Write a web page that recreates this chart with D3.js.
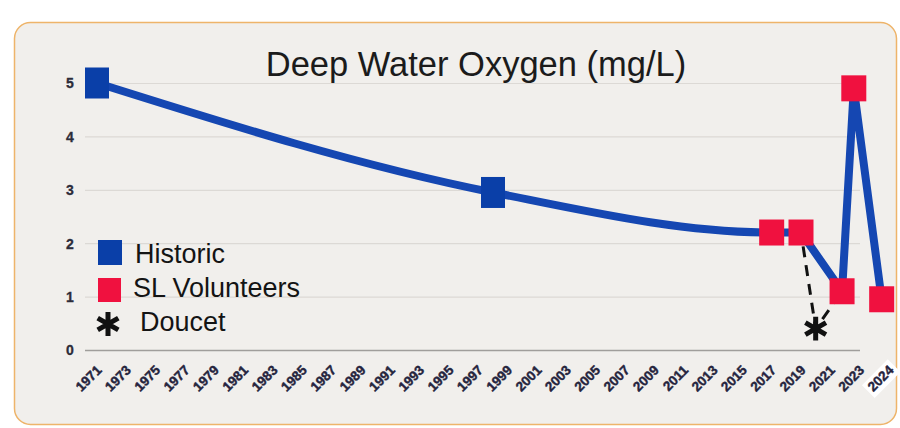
<!DOCTYPE html>
<html>
<head>
<meta charset="utf-8">
<script src="https://cdn.jsdelivr.net/npm/d3@7"></script>
<style>
  html, body { margin: 0; padding: 0; background: #ffffff; }
  svg { display: block; font-family: "Liberation Sans", Arial, sans-serif; }
</style>
</head>
<body>
<svg id="chart" width="900" height="428"></svg>
<script>
// Deep-water dissolved oxygen readings (mg/L)
const historicYears = [1971, 1998];
const historicValues = [5.0, 2.95];
const volunteerYears = [2017, 2019, 2021.8, 2022.6, 2024.5];
const volunteerValues = [2.2, 2.2, 1.1, 4.9, 0.95];
const doucetYears = [2020];
const doucetValues = [0.4];

const yTicks = [0, 1, 2, 3, 4, 5];
const xTickLabels = ["1971","1973","1975","1977","1979","1981","1983","1985","1987","1989",
  "1991","1993","1995","1997","1999","2001","2003","2005","2007","2009","2011","2013",
  "2015","2017","2019","2021","2023","2024"];

const titleText = "Deep Water Oxygen (mg/L)";
const legendItems = ["Historic", "SL Volunteers", "Doucet"];

const BLUE_LINE = "#1547b2";
const BLUE = "#0a3fa8";
const RED = "#f0113f";

const svg = d3.select("#chart");

// card background
svg.append("rect")
  .attr("x", 14.5).attr("y", 22.5).attr("width", 882).attr("height", 402)
  .attr("rx", 16).attr("ry", 16)
  .attr("fill", "#f1efec").attr("stroke", "#eeb46a").attr("stroke-width", 1.5);

const xRange = [97, 889];
const x = d3.scaleLinear().domain([1971, 2025]).range(xRange);
const xLabels = d3.scalePoint().domain(xTickLabels).range(xRange);
const y = d3.scaleLinear().domain([0, 5]).range([350, 83]);

// gridlines
svg.append("g")
  .attr("transform", "translate(85,0)")
  .call(d3.axisLeft(y).tickValues(yTicks).tickSize(-775).tickFormat(""))
  .call(g => g.select(".domain").remove())
  .call(g => g.selectAll(".tick line")
    .attr("stroke", d => d === 0 ? "#a09e9b" : "#dcd9d5")
    .attr("stroke-width", d => d === 0 ? 1.5 : 1.2));

// y tick labels
svg.append("g")
  .attr("transform", "translate(70,0)")
  .call(d3.axisLeft(y).tickValues(yTicks).tickSize(0).tickPadding(0).tickFormat(d3.format("d")))
  .call(g => g.select(".domain").remove())
  .call(g => g.selectAll(".tick text")
    .attr("text-anchor", "middle").attr("x", 0).attr("dy", "0.35em")
    .attr("fill", "#2c2c3a").attr("stroke", "#2c2c3a").attr("stroke-width", 0.3)
    .attr("font-size", 14).attr("font-weight", "bold")
    .attr("font-family", "Liberation Sans, Arial, sans-serif"));

// x tick labels (rotated)
const labelShift = "translate(5,21) rotate(-45)";
const xAxisG = svg.append("g")
  .attr("transform", "translate(0,350)")
  .call(d3.axisBottom(xLabels).tickSize(0).tickPadding(0))
  .call(g => g.select(".domain").remove());
xAxisG.selectAll(".tick text")
  .attr("transform", labelShift)
  .attr("text-anchor", "end").attr("x", 0).attr("y", 0).attr("dy", 0)
  .attr("fill", "#25243d").attr("stroke", "#25243d").attr("stroke-width", 0.4)
  .attr("font-size", 13.5).attr("font-weight", "bold")
  .attr("font-family", "Liberation Sans, Arial, sans-serif");
// white plate behind the final label
xAxisG.selectAll(".tick").filter(d => d === "2024").each(function () {
  const t = d3.select(this).select("text");
  const bb = t.node().getBBox();
  d3.select(this).insert("rect", "text")
    .attr("transform", labelShift)
    .attr("x", bb.x - 3).attr("y", bb.y - 1)
    .attr("width", bb.width + 6).attr("height", bb.height + 3)
    .attr("fill", "#ffffff");
});

// title
svg.append("text")
  .attr("x", 476).attr("y", 76).attr("text-anchor", "middle")
  .attr("font-size", 34.5).attr("fill", "#1b1b1b")
  .text(titleText);

// series line: smooth through the historic record, straight between recent samples
const allYears = historicYears.concat(volunteerYears);
const allValues = historicValues.concat(volunteerValues);
const pts = allYears.map((yr, i) => [x(yr), y(allValues[i])]);
const splitIdx = allYears.indexOf(2019);

svg.append("path")
  .attr("d", d3.line().curve(d3.curveMonotoneX)(pts.slice(0, splitIdx + 1)))
  .attr("fill", "none").attr("stroke", BLUE_LINE).attr("stroke-width", 8)
  .attr("stroke-linejoin", "round");
svg.append("path")
  .attr("d", d3.line()(pts.slice(splitIdx)))
  .attr("fill", "none").attr("stroke", BLUE_LINE).attr("stroke-width", 8)
  .attr("stroke-linejoin", "round");

// dashed link through the Doucet reading
const dashPts = [
  [x(2019), y(2.2)],
  [x(doucetYears[0]), y(doucetValues[0])],
  [x(2021.8), y(1.1)]
];
svg.append("path")
  .attr("d", d3.line()(dashPts))
  .attr("fill", "none").attr("stroke", "#111").attr("stroke-width", 3)
  .attr("stroke-dasharray", "11,8").attr("stroke-dashoffset", -14);

// markers
svg.append("g").selectAll("rect")
  .data(historicYears.map((yr, i) => [yr, historicValues[i]]))
  .join("rect")
  .attr("x", d => x(d[0]) - 12).attr("y", d => y(d[1]) - 15.5)
  .attr("width", 24).attr("height", 31).attr("fill", BLUE);

svg.append("g").selectAll("rect")
  .data(volunteerYears.map((yr, i) => [yr, volunteerValues[i]]))
  .join("rect")
  .attr("x", d => x(d[0]) - 12.5).attr("y", d => y(d[1]) - 13)
  .attr("width", 25).attr("height", 26).attr("fill", RED);

const star = d3.symbol().type(d3.symbolAsterisk).size(400);
svg.append("g").selectAll("path")
  .data(doucetYears.map((yr, i) => [yr, doucetValues[i]]))
  .join("path")
  .attr("transform", d => `translate(${x(d[0])},${y(d[1])})`)
  .attr("d", star).attr("fill", "none").attr("stroke", "#111").attr("stroke-width", 5);

// legend
const legend = svg.append("g");
legend.append("rect").attr("x", 98).attr("y", 240).attr("width", 24).attr("height", 25).attr("fill", BLUE);
legend.append("rect").attr("x", 98).attr("y", 278).attr("width", 23).attr("height", 24).attr("fill", RED);
legend.append("path").attr("transform", "translate(108,324)")
  .attr("d", star).attr("fill", "none").attr("stroke", "#111").attr("stroke-width", 5);
const legendPos = [[135, 263], [133, 297], [140, 331]];
legend.selectAll("text").data(legendItems).join("text")
  .attr("x", (d, i) => legendPos[i][0]).attr("y", (d, i) => legendPos[i][1])
  .attr("font-size", 27).attr("fill", "#141414")
  .text(d => d);
</script>
</body>
</html>
